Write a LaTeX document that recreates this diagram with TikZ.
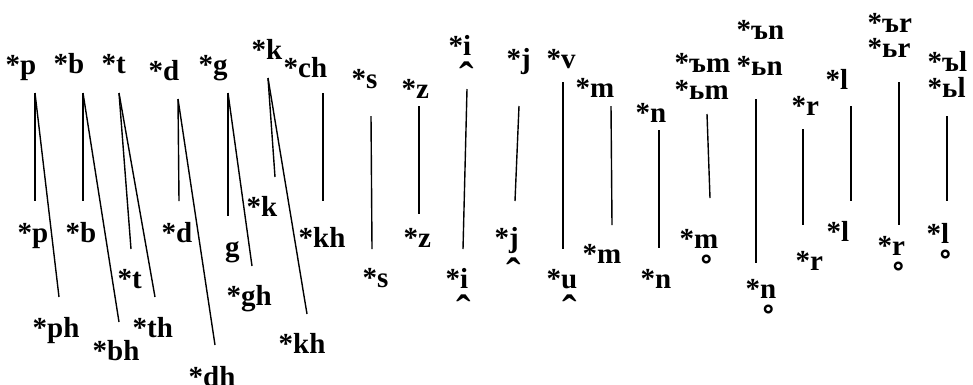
\documentclass[tikz,border=0pt]{standalone}
\usepackage{fontspec}
\setmainfont{Liberation Serif}
\newcommand\capb[2][1.3em]{\ooalign{#2\cr\hidewidth\raisebox{-#1}{\scalebox{1.5}{\char"02C6}}\hidewidth\cr}}
\newcommand\ringb[2][1.32em]{\ooalign{#2\cr\hidewidth\raisebox{-#1}{\scalebox{1.5}{\char"02DA}}\hidewidth\cr}}

\begin{document}
\begin{tikzpicture}[x=1pt,y=-1pt,
  lbl/.style={anchor=base west, inner sep=0pt, font=\bfseries\fontsize{29}{30}\selectfont},
  branche/.style={line width=1.4pt}]
  \useasboundingbox (0,0) rectangle (973,384);

  % Formes de depart
  \node[lbl] (tp) at (5.5,74) {*p};
  \node[lbl] (tb) at (53.5,73) {*b};
  \node[lbl] (tt) at (101.5,73) {*t};
  \node[lbl] (td) at (148.5,80) {*d};
  \node[lbl] (tg) at (198.5,74) {*g};
  \node[lbl] (tk) at (251.5,59) {*k};
  \node[lbl] (tch) at (283.5,77) {*ch};
  \node[lbl] (ts) at (351.5,88) {*s};
  \node[lbl] (tz) at (401.5,98) {*z};
  \node[lbl] (ti) at (448.5,55) {*\capb{i}};
  \node[lbl] (tj) at (506.5,68) {*j};
  \node[lbl] (tv) at (546.5,68) {*v};
  \node[lbl] (tm) at (575.5,97) {*m};
  \node[lbl] (tn) at (635.5,122) {*n};
  \node[lbl] (tym1) at (674.5,72) {*ъm};
  \node[lbl] (tym2) at (674.5,99) {*ьm};
  \node[lbl] (tyn1) at (736.5,39) {*ъn};
  \node[lbl] (tyn2) at (736.5,75) {*ьn};
  \node[lbl] (tr) at (791.5,115) {*r};
  \node[lbl] (tl) at (825.5,89) {*l};
  \node[lbl] (tyr1) at (867.5,32) {*ъr};
  \node[lbl] (tyr2) at (867.5,57) {*ьr};
  \node[lbl] (tyl1) at (927.5,71) {*ъl};
  \node[lbl] (tyl2) at (927.5,97) {*ьl};

  % Formes d'arrivee
  \node[lbl] (bp) at (17.5,242) {*p};
  \node[lbl] (bph) at (32.5,337) {*ph};
  \node[lbl] (bb) at (65.5,242) {*b};
  \node[lbl] (bbh) at (92.5,360) {*bh};
  \node[lbl] (bt) at (117.5,288) {*t};
  \node[lbl] (bth) at (132.5,337) {*th};
  \node[lbl] (bd) at (161.5,242) {*d};
  \node[lbl] (bdh) at (188.5,386) {*dh};
  \node[lbl] (bg) at (225,256) {g};
  \node[lbl] (bgh) at (226.5,305) {*gh};
  \node[lbl] (bk) at (246.5,216) {*k};
  \node[lbl] (bkh) at (278.5,353) {*kh};
  \node[lbl] (bkh2) at (298.5,247) {*kh};
  \node[lbl] (bs) at (362.5,287) {*s};
  \node[lbl] (bz) at (403.5,247) {*z};
  \node[lbl] (bi) at (445.5,288) {*\capb{i}};
  \node[lbl] (bj) at (494.5,247) {*\capb[1.42em]{j}};
  \node[lbl] (bu) at (546.5,288) {*\capb{u}};
  \node[lbl] (bm) at (582.5,263) {*m};
  \node[lbl] (bn) at (640.5,288) {*n};
  \node[lbl] (bmr) at (679.5,248) {*\ringb{m}};
  \node[lbl] (bnr) at (745.5,298) {*\ringb{n}};
  \node[lbl] (br) at (795.5,270) {*r};
  \node[lbl] (bl) at (826.5,241) {*l};
  \node[lbl] (brr) at (877.5,255) {*\ringb{r}};
  \node[lbl] (blr) at (926.5,243) {*\ringb{l}};

  % Points d'attache des branches
  \coordinate (tp-o) at (35,93);
  \coordinate (tb-o) at (83,93);
  \coordinate (tt-o) at (119,93);
  \coordinate (td-o) at (178,99);
  \coordinate (tg-o) at (228,93);
  \coordinate (tk-o) at (268,78);
  \coordinate (tch-o) at (323,93);
  \coordinate (ts-o) at (371,116);
  \coordinate (tz-o) at (419,106);
  \coordinate (ti-o) at (467,89);
  \coordinate (tj-o) at (519,106);
  \coordinate (tv-o) at (563,82);
  \coordinate (tm-o) at (611,106);
  \coordinate (tn-o) at (659,130);
  \coordinate (tym-o) at (707,114);
  \coordinate (tyn-o) at (756,99);
  \coordinate (tr-o) at (803,129);
  \coordinate (tl-o) at (851,106);
  \coordinate (tyr-o) at (899,82);
  \coordinate (tyl-o) at (947,116);

  \coordinate (bp-e) at (35,201);
  \coordinate (bph-e) at (59,297);
  \coordinate (bb-e) at (83,201);
  \coordinate (bbh-e) at (119,322);
  \coordinate (bt-e) at (131,249);
  \coordinate (bth-e) at (155,297);
  \coordinate (bd-e) at (179,201);
  \coordinate (bdh-e) at (215,345);
  \coordinate (bg-e) at (228,216);
  \coordinate (bgh-e) at (252,266);
  \coordinate (bk-e) at (275,177);
  \coordinate (bkh-e) at (307,314);
  \coordinate (bkh2-e) at (323,201);
  \coordinate (bs-e) at (372,249);
  \coordinate (bz-e) at (419,214);
  \coordinate (bi-e) at (463,249);
  \coordinate (bj-e) at (515,201);
  \coordinate (bu-e) at (563,249);
  \coordinate (bm-e) at (612,225);
  \coordinate (bn-e) at (659,248);
  \coordinate (bmr-e) at (710,198);
  \coordinate (bnr-e) at (756,263);
  \coordinate (br-e) at (803,225);
  \coordinate (bl-e) at (851,201);
  \coordinate (brr-e) at (899,225);
  \coordinate (blr-e) at (947,201);

  % Branches
  \foreach \a/\b in {tp/bp, tp/bph, tb/bb, tb/bbh, tt/bt, tt/bth, td/bd, td/bdh,
                     tg/bg, tg/bgh, tk/bk, tk/bkh, tch/bkh2, ts/bs, tz/bz, ti/bi,
                     tj/bj, tv/bu, tm/bm, tn/bn, tym/bmr, tyn/bnr, tr/br, tl/bl,
                     tyr/brr, tyl/blr}
    \draw[branche] (\a-o) -- (\b-e);
\end{tikzpicture}
\end{document}
